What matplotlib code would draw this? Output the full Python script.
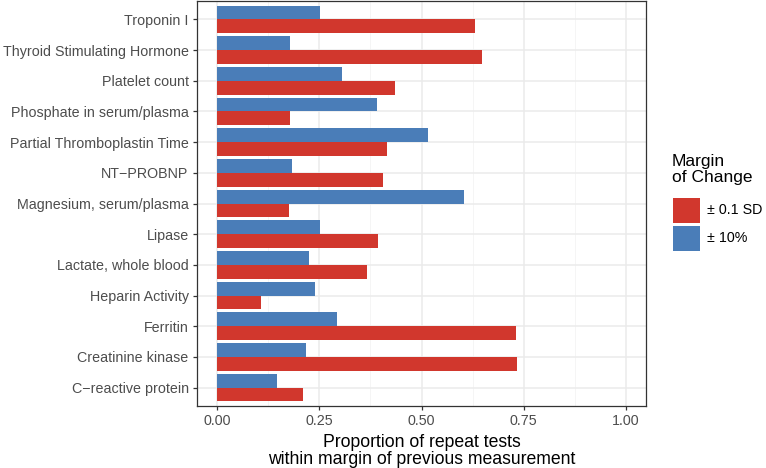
import matplotlib
matplotlib.use("Agg")
import matplotlib.pyplot as plt
from matplotlib.patches import Rectangle
import numpy as np

plt.rcParams['font.family'] = ['Liberation Sans', 'DejaVu Sans']

categories = ["C\u2212reactive protein", "Creatinine kinase", "Ferritin", "Heparin Activity",
              "Lactate, whole blood", "Lipase", "Magnesium, serum/plasma", "NT\u2212PROBNP",
              "Partial Thromboplastin Time", "Phosphate in serum/plasma", "Platelet count",
              "Thyroid Stimulating Hormone", "Troponin I"]
sd_values = [0.209, 0.733, 0.732, 0.108, 0.366, 0.393, 0.175, 0.406, 0.416, 0.179, 0.434, 0.649, 0.632]
pct_values = [0.146, 0.217, 0.294, 0.239, 0.224, 0.251, 0.603, 0.183, 0.516, 0.391, 0.306, 0.178, 0.251]
series_labels = ["\u00b1 0.1 SD", "\u00b1 10%"]
xticks = [0.0, 0.25, 0.5, 0.75, 1.0]
xtick_labels = ["0.00", "0.25", "0.50", "0.75", "1.00"]

red = "#D1372D"
blue = "#4A7DB8"

fig = plt.figure(figsize=(7.66, 4.68), dpi=100)
W, H = 766, 468
ax = fig.add_axes([197 / W, 1 - 406 / H, (646 - 197) / W, (406 - 1) / H])

y = np.arange(len(categories))
h = 0.45
ax.barh(y - h / 2, sd_values, height=h, color=red, zorder=3)
ax.barh(y + h / 2, pct_values, height=h, color=blue, zorder=3)

ax.set_xlim(-0.05, 1.05)
ax.set_ylim(-0.6, len(categories) - 0.4)
ax.set_yticks(y)
ax.set_yticklabels(categories)
ax.set_xticks(xticks)
ax.set_xticklabels(xtick_labels)
ax.set_xticks([0.125, 0.375, 0.625, 0.875], minor=True)

ax.grid(True, which='major', color='#EBEBEB', linewidth=1.1, zorder=0)
ax.grid(True, which='minor', axis='x', color='#F4F4F4', linewidth=0.6, zorder=0)
ax.set_axisbelow(True)
for s in ax.spines.values():
    s.set_color('#333333')
    s.set_linewidth(0.9)
ax.tick_params(axis='both', which='major', length=3, width=0.9, color='#333333',
               labelsize=10.3, labelcolor='#4D4D4D', pad=3)
ax.tick_params(axis='x', which='minor', length=0)

ax.set_xlabel("Proportion of repeat tests\nwithin margin of previous measurement",
              fontsize=12.7, color='black', labelpad=4, linespacing=1.0)

# legend drawn in figure pixel coordinates
def fx(px):
    return px / W

def fy(py):
    return 1 - py / H

fig.text(fx(672), fy(154), "Margin\nof Change", fontsize=12.5, color='black',
         ha='left', va='top', linespacing=1.1)
key_tops = [198, 226]
for top, col, lab in zip(key_tops, [red, blue], series_labels):
    fig.patches.append(Rectangle((fx(673), fy(top + 25)), 27 / W, 25 / H,
                                 transform=fig.transFigure, facecolor=col,
                                 edgecolor='none', figure=fig))
    fig.text(fx(707), fy(top + 12.5), lab, fontsize=10.3, color='black',
             ha='left', va='center')

fig.savefig("out.png", dpi=100)
